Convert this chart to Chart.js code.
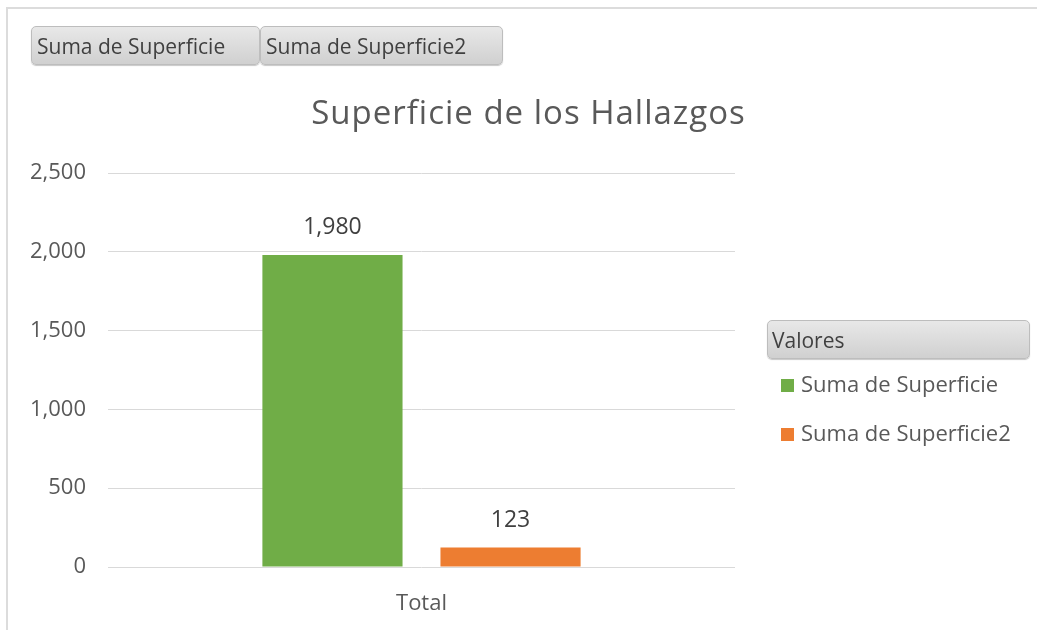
<!DOCTYPE html>
<html>
<head>
<meta charset="utf-8">
<script src="https://cdn.jsdelivr.net/npm/chart.js@4.4.0/dist/chart.umd.min.js"></script>
<style>
  body { margin: 0; background: #fff; font-family: "Open Sans", "Noto Sans", sans-serif; }
  #wrap { position: relative; width: 1037px; height: 630px; overflow: hidden; }
  #frame { position: absolute; left: 6px; top: 7px; width: 1100px; height: 700px;
    border-top: 2px solid #dcdcdc; border-left: 2px solid #dcdcdc; }
  canvas { position: absolute; left: 0; top: 0; }
  .btn { position: absolute; height: 39px; line-height: 38px; box-sizing: border-box;
    border: 1px solid #bdbdbd; border-radius: 5px; padding-left: 5px; font-size: 21px; color: #404040;
    background: linear-gradient(#e8e8e8, #d0d0d0); box-shadow: 0 1px 1px #c8c8c8; white-space: nowrap; }
  #title { position: absolute; left: 0; width: 1057px; top: 89px; text-align: center;
    font-size: 33px; letter-spacing: 1px; color: #595959; }
  .item { position: absolute; left: 781px; font-size: 22px; color: #595959; line-height: 30px; white-space: nowrap; }
  .item span { display: inline-block; width: 13px; height: 13px; margin-right: 7px; }
</style>
</head>
<body>
<div id="wrap">
  <div id="frame"></div>
  <canvas id="myChart" width="1037" height="630"></canvas>
  <div class="btn" style="left:31px;top:26px;width:229px;">Suma de Superficie</div>
  <div class="btn" style="left:260px;top:26px;width:243px;">Suma de Superficie2</div>
  <div id="title">Superficie de los Hallazgos</div>
  <div class="btn" style="left:767px;top:320px;width:263px;padding-left:4px;">Valores</div>
  <div id="legend"></div>
</div>
<script>
(() => {

var categories = ['Total'];
var seriesNames = ['Suma de Superficie', 'Suma de Superficie2'];
var superficie = [1980];
var superficie2 = [123];
var colors = ['#70ad47', '#ed7d31'];

// leyenda a la derecha
var legend = document.getElementById('legend');
seriesNames.forEach((name, i) => {
	var d = document.createElement('div');
	d.className = 'item';
	d.style.top = (368 + i * 49) + 'px';
	d.innerHTML = '<span style="background:' + colors[i] + '"></span>' + name;
	legend.appendChild(d);
});

const valueLabels = {
	id: 'valueLabels',
	afterDatasetsDraw(chart) {
		const ctx = chart.ctx;
		ctx.save();
		ctx.font = '23px "Open Sans", "Noto Sans", sans-serif';
		ctx.fillStyle = '#404040';
		ctx.textAlign = 'center';
		ctx.textBaseline = 'middle';
		chart.data.datasets.forEach((ds, i) => {
			chart.getDatasetMeta(i).data.forEach((bar, j) => {
				ctx.fillText(ds.data[j].toLocaleString('en-US'), bar.x, bar.y - 27);
			});
		});
		ctx.restore();
	}
};

Chart.defaults.font.family = '"Open Sans", "Noto Sans", sans-serif';
Chart.defaults.color = '#595959';

const canvas = document.getElementById('myChart');
const myChart = new Chart(canvas, {
	type: 'bar',
	data: {
		labels: categories,
		datasets: [
			{ label: seriesNames[0], data: superficie, backgroundColor: colors[0] },
			{ label: seriesNames[1], data: superficie2, backgroundColor: colors[1] }
		]
	},
	options: {
		responsive: false,
		animation: false,
		categoryPercentage: 0.568,
		barPercentage: 0.787,
		layout: { padding: { left: 0, top: 173, right: 302, bottom: 0 } },
		plugins: {
			legend: { display: false },
			tooltip: { enabled: false }
		},
		scales: {
			x: {
				grid: { display: false },
				border: { display: false },
				ticks: { font: { size: 22 }, padding: 16 },
				afterFit(scale) { scale.height = 63; }
			},
			y: {
				min: 0,
				max: 2500,
				grid: { color: '#d9d9d9', drawTicks: false },
				border: { display: false },
				ticks: {
					stepSize: 500,
					font: { size: 22 },
					padding: 22,
					callback: v => v.toLocaleString('en-US')
				},
				afterFit(scale) { scale.width = 108; }
			}
		}
	},
	plugins: [valueLabels]
});
})()
</script>
</body>
</html>
